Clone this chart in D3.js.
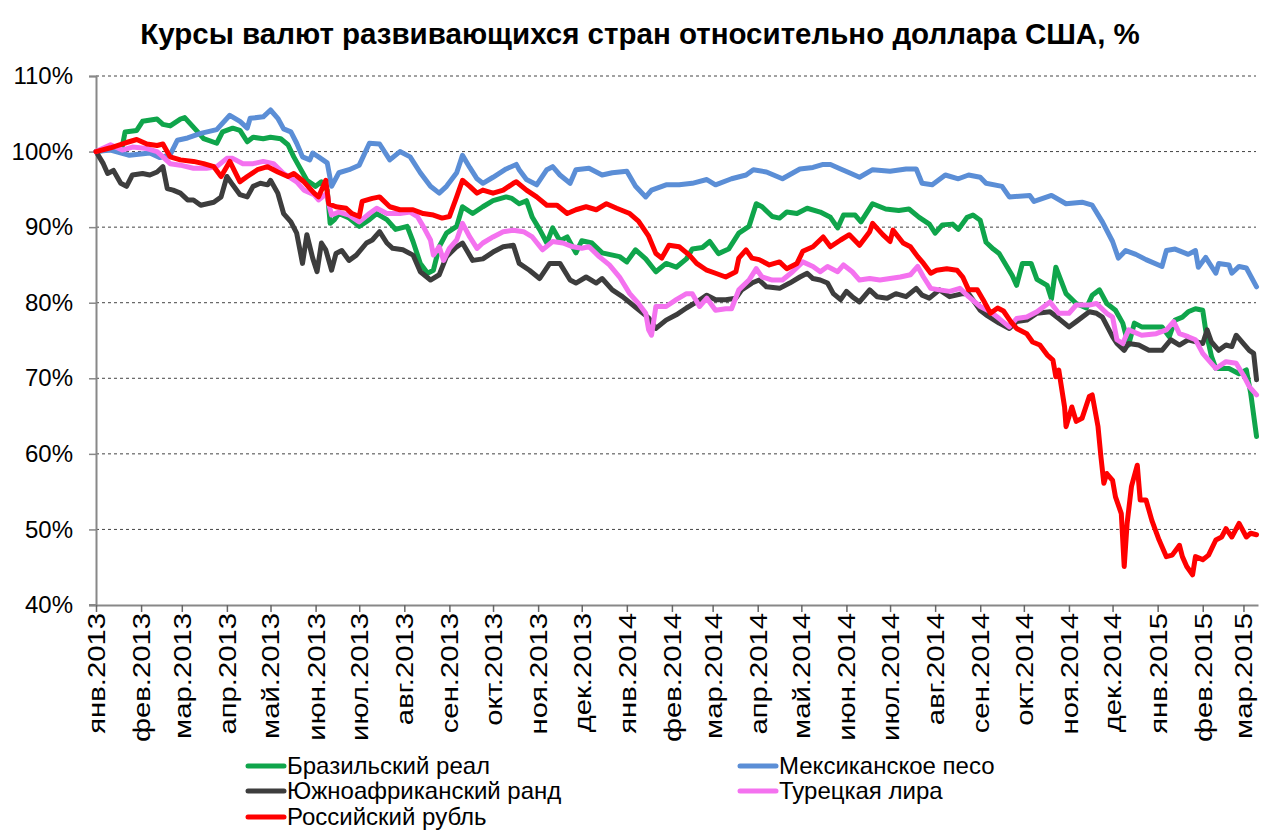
<!DOCTYPE html>
<html><head><meta charset="utf-8">
<script src="https://cdn.jsdelivr.net/npm/d3@7/dist/d3.min.js"></script>
<style>
html,body{margin:0;padding:0;background:#fff;}
svg{display:block;font-family:"Liberation Sans",Arial,sans-serif;}
</style></head><body>
<svg id="chart" width="1280" height="836"></svg>
<script>
const title = "Курсы валют развивающихся стран относительно доллара США, %";
const monthNames = ["янв","фев","мар","апр","май","июн","июл","авг","сен","окт","ноя","дек"];
const yTicks = [40,50,60,70,80,90,100,110];
const seriesNames = ["Бразильский реал","Мексиканское песо","Южноафриканский ранд","Турецкая лира","Российский рубль"];
const seriesColors = ["#0fa54b","#5b8ed6","#3d3d3d","#f472ef","#ff0000"];

const brl = [["2013-01-01",100],["2013-01-11",100.3],["2013-01-19",100.6],["2013-01-21",102.6],["2013-01-29",102.8],["2013-02-02",104.0],["2013-02-12",104.3],["2013-02-16",103.6],["2013-02-21",103.4],["2013-02-28",104.3],["2013-03-03",104.5],["2013-03-11",102.8],["2013-03-16",101.7],["2013-03-25",101.1],["2013-03-29",102.6],["2013-04-05",103.1],["2013-04-10",102.8],["2013-04-15",101.3],["2013-04-19",101.9],["2013-04-26",101.7],["2013-05-01",101.9],["2013-05-08",101.7],["2013-05-13",100.9],["2013-05-17",99.3],["2013-05-26",96.2],["2013-06-01",95.4],["2013-06-05",96.0],["2013-06-09",94.9],["2013-06-11",90.5],["2013-06-14",91.0],["2013-06-17",91.8],["2013-06-24",91.2],["2013-07-01",90.1],["2013-07-08",91.0],["2013-07-13",91.8],["2013-07-20",91.0],["2013-07-26",89.7],["2013-08-03",90.1],["2013-08-07",88.1],["2013-08-12",85.2],["2013-08-17",83.9],["2013-08-21",84.3],["2013-08-25",87.4],["2013-08-30",89.2],["2013-09-06",90.1],["2013-09-10",92.7],["2013-09-17",91.8],["2013-09-24",92.7],["2013-10-01",93.5],["2013-10-10",94.0],["2013-10-14",93.8],["2013-10-19",93.1],["2013-10-24",93.5],["2013-10-28",91.3],["2013-11-02",89.7],["2013-11-07",87.9],["2013-11-11",89.9],["2013-11-16",88.2],["2013-11-21",88.7],["2013-11-27",86.6],["2013-12-01",88.2],["2013-12-08",87.9],["2013-12-15",86.6],["2013-12-27",86.1],["2014-01-01",85.4],["2014-01-07",87.0],["2014-01-14",85.8],["2014-01-21",84.1],["2014-01-28",85.2],["2014-02-04",84.7],["2014-02-11",85.8],["2014-02-15",87.1],["2014-02-22",87.3],["2014-02-27",88.1],["2014-03-05",86.5],["2014-03-12",87.1],["2014-03-19",89.2],["2014-03-26",90.1],["2014-03-31",93.1],["2014-04-04",92.7],["2014-04-11",91.4],["2014-04-16",91.2],["2014-04-21",92.0],["2014-04-28",91.8],["2014-05-05",92.5],["2014-05-14",92.0],["2014-05-21",91.3],["2014-05-26",89.9],["2014-05-30",91.6],["2014-06-07",91.6],["2014-06-11",90.7],["2014-06-19",93.1],["2014-06-28",92.4],["2014-07-07",92.2],["2014-07-14",92.4],["2014-07-21",91.3],["2014-07-28",90.4],["2014-08-01",89.2],["2014-08-06",90.3],["2014-08-13",90.4],["2014-08-17",89.7],["2014-08-23",91.3],["2014-08-27",91.6],["2014-09-01",90.9],["2014-09-05",88.0],["2014-09-10",87.1],["2014-09-14",86.5],["2014-09-23",83.6],["2014-09-26",82.3],["2014-09-30",85.2],["2014-10-06",85.2],["2014-10-10",83.1],["2014-10-17",82.3],["2014-10-20",80.5],["2014-10-23",84.7],["2014-10-30",81.2],["2014-11-06",79.9],["2014-11-13",79.3],["2014-11-17",81.0],["2014-11-22",81.7],["2014-11-27",79.9],["2014-12-03",79.0],["2014-12-08",77.3],["2014-12-12",74.4],["2014-12-16",77.3],["2014-12-21",76.8],["2015-01-04",76.8],["2015-01-09",75.5],["2015-01-13",77.7],["2015-01-18",78.1],["2015-01-22",78.8],["2015-01-27",79.2],["2015-02-01",79.0],["2015-02-03",76.4],["2015-02-07",72.9],["2015-02-10",71.3],["2015-02-19",71.3],["2015-02-26",70.6],["2015-03-03",71.1],["2015-03-06",68.0],["2015-03-10",62.3]];

const mxn = [["2013-01-01",100],["2013-01-11",100.2],["2013-01-24",99.5],["2013-02-07",99.8],["2013-02-14",99.2],["2013-02-21",99.6],["2013-02-26",101.5],["2013-03-05",101.8],["2013-03-14",102.4],["2013-03-25",102.9],["2013-04-03",104.8],["2013-04-10",104.0],["2013-04-15",103.1],["2013-04-17",104.4],["2013-04-26",104.6],["2013-05-01",105.5],["2013-05-06",104.4],["2013-05-10",103.0],["2013-05-15",102.6],["2013-05-19",101.1],["2013-05-23",99.3],["2013-05-28",98.9],["2013-05-30",99.8],["2013-06-03",99.3],["2013-06-09",98.5],["2013-06-12",95.4],["2013-06-17",97.2],["2013-06-24",97.6],["2013-07-01",98.2],["2013-07-08",101.1],["2013-07-15",101.0],["2013-07-22",98.9],["2013-07-29",100.0],["2013-08-05",99.3],["2013-08-12",97.2],["2013-08-19",95.4],["2013-08-25",94.5],["2013-08-30",95.4],["2013-09-06",97.2],["2013-09-10",99.5],["2013-09-15",97.9],["2013-09-20",96.4],["2013-09-24",95.8],["2013-10-01",96.6],["2013-10-10",97.7],["2013-10-17",98.3],["2013-10-19",97.6],["2013-10-24",96.3],["2013-10-31",95.6],["2013-11-07",97.6],["2013-11-11",98.0],["2013-11-16",96.9],["2013-11-23",95.8],["2013-11-27",97.6],["2013-12-06",97.8],["2013-12-15",96.9],["2013-12-22",97.2],["2014-01-01",97.4],["2014-01-07",95.4],["2014-01-14",94.0],["2014-01-18",94.9],["2014-01-28",95.6],["2014-02-06",95.6],["2014-02-15",95.8],["2014-02-25",96.3],["2014-03-03",95.6],["2014-03-14",96.4],["2014-03-24",96.9],["2014-03-29",97.6],["2014-04-07",97.3],["2014-04-18",96.4],["2014-04-30",97.7],["2014-05-09",97.9],["2014-05-16",98.3],["2014-05-21",98.3],["2014-05-28",97.7],["2014-06-03",97.2],["2014-06-10",96.6],["2014-06-19",97.6],["2014-07-01",97.4],["2014-07-12",97.7],["2014-07-19",97.7],["2014-07-23",95.8],["2014-07-30",95.6],["2014-08-08",96.9],["2014-08-17",96.4],["2014-08-24",96.9],["2014-09-01",96.6],["2014-09-05",95.8],["2014-09-16",95.4],["2014-09-21",94.0],["2014-10-05",94.2],["2014-10-08",93.4],["2014-10-20",94.2],["2014-10-30",93.1],["2014-11-10",93.3],["2014-11-17",92.9],["2014-11-24",90.7],["2014-12-01",88.1],["2014-12-05",85.9],["2014-12-10",86.9],["2014-12-17",86.4],["2014-12-24",85.7],["2015-01-04",84.8],["2015-01-07",86.9],["2015-01-13",87.1],["2015-01-22",86.4],["2015-01-27",86.9],["2015-01-29",84.7],["2015-02-03",86.0],["2015-02-10",83.9],["2015-02-12",85.2],["2015-02-19",85.0],["2015-02-21",83.9],["2015-02-26",84.8],["2015-03-03",84.6],["2015-03-10",82.1]];

const zar = [["2013-01-01",100],["2013-01-06",98.4],["2013-01-09",97.1],["2013-01-13",97.5],["2013-01-18",95.8],["2013-01-22",95.4],["2013-01-26",96.9],["2013-02-02",97.1],["2013-02-07",96.9],["2013-02-12",97.3],["2013-02-16",98.0],["2013-02-19",95.1],["2013-02-23",94.9],["2013-02-28",94.5],["2013-03-05",93.6],["2013-03-09",93.6],["2013-03-14",92.9],["2013-03-23",93.3],["2013-03-28",94.0],["2013-04-01",96.7],["2013-04-05",95.6],["2013-04-10",94.3],["2013-04-15",94.0],["2013-04-19",95.4],["2013-04-24",95.8],["2013-04-29",95.6],["2013-05-01",96.2],["2013-05-06",94.5],["2013-05-10",91.8],["2013-05-15",90.7],["2013-05-19",89.2],["2013-05-23",85.2],["2013-05-26",89.0],["2013-05-30",85.9],["2013-06-02",84.1],["2013-06-05",87.9],["2013-06-08",87.0],["2013-06-12",84.3],["2013-06-15",86.5],["2013-06-19",86.9],["2013-06-24",85.6],["2013-06-29",86.3],["2013-07-06",87.9],["2013-07-10",88.3],["2013-07-15",89.4],["2013-07-20",87.9],["2013-07-24",87.2],["2013-07-31",87.0],["2013-08-07",86.3],["2013-08-12",84.1],["2013-08-19",83.0],["2013-08-25",83.7],["2013-08-30",86.1],["2013-09-06",87.4],["2013-09-10",87.9],["2013-09-17",85.6],["2013-09-24",85.8],["2013-10-01",86.7],["2013-10-08",87.4],["2013-10-15",87.6],["2013-10-19",85.2],["2013-10-26",84.3],["2013-11-02",83.2],["2013-11-09",85.2],["2013-11-16",85.2],["2013-11-23",83.0],["2013-11-27",82.6],["2013-12-04",83.4],["2013-12-11",82.6],["2013-12-15",83.2],["2013-12-22",81.7],["2013-12-29",80.8],["2014-01-07",79.4],["2014-01-16",78.0],["2014-01-21",76.6],["2014-01-28",77.7],["2014-02-04",78.4],["2014-02-11",79.3],["2014-02-18",80.1],["2014-02-25",81.0],["2014-03-03",80.4],["2014-03-10",80.4],["2014-03-17",80.6],["2014-03-21",81.7],["2014-03-28",82.6],["2014-04-02",83.0],["2014-04-07",82.1],["2014-04-16",81.9],["2014-04-23",82.6],["2014-04-30",83.4],["2014-05-05",83.9],["2014-05-09",83.2],["2014-05-14",83.0],["2014-05-19",82.6],["2014-05-23",81.2],["2014-05-28",80.4],["2014-06-01",81.5],["2014-06-05",80.8],["2014-06-10",80.1],["2014-06-17",81.7],["2014-06-22",80.8],["2014-06-29",80.6],["2014-07-05",81.2],["2014-07-12",80.8],["2014-07-19",81.9],["2014-07-23",81.0],["2014-07-28",80.6],["2014-08-04",81.7],["2014-08-11",80.8],["2014-08-20",81.2],["2014-08-24",81.2],["2014-09-01",79.0],["2014-09-05",78.4],["2014-09-14",77.3],["2014-09-21",76.6],["2014-09-26",77.5],["2014-10-03",77.7],["2014-10-10",78.6],["2014-10-19",78.8],["2014-10-25",77.9],["2014-11-01",76.8],["2014-11-06",77.5],["2014-11-15",78.8],["2014-11-20",78.6],["2014-11-24",78.1],["2014-12-01",75.5],["2014-12-04",74.6],["2014-12-09",73.7],["2014-12-12",74.6],["2014-12-19",74.4],["2014-12-26",73.7],["2015-01-04",73.7],["2015-01-10",75.1],["2015-01-16",74.4],["2015-01-22",75.1],["2015-02-01",74.6],["2015-02-04",76.4],["2015-02-07",74.8],["2015-02-12",73.7],["2015-02-17",74.4],["2015-02-21",74.2],["2015-02-24",75.7],["2015-03-01",74.6],["2015-03-05",73.7],["2015-03-08",73.3],["2015-03-10",69.8]];

const tryl = [["2013-01-01",100],["2013-01-11",100.9],["2013-01-19",100.2],["2013-01-26",100.6],["2013-02-05",100.4],["2013-02-12",100.0],["2013-02-16",99.3],["2013-02-21",98.4],["2013-02-28",98.2],["2013-03-09",97.8],["2013-03-18",97.8],["2013-03-25",98.0],["2013-04-01",99.1],["2013-04-05",99.1],["2013-04-12",98.4],["2013-04-19",98.4],["2013-04-26",98.7],["2013-05-03",98.4],["2013-05-10",97.1],["2013-05-15",96.5],["2013-05-19",96.0],["2013-05-24",94.9],["2013-05-31",94.3],["2013-06-03",93.6],["2013-06-09",94.5],["2013-06-10",93.1],["2013-06-12",91.6],["2013-06-17",92.0],["2013-06-24",91.6],["2013-07-01",90.7],["2013-07-08",91.8],["2013-07-13",92.5],["2013-07-20",91.8],["2013-07-29",91.8],["2013-08-05",92.0],["2013-08-10",91.4],["2013-08-14",90.1],["2013-08-19",88.3],["2013-08-21",86.3],["2013-08-25",87.4],["2013-08-28",85.6],["2013-09-01",87.2],["2013-09-06",88.3],["2013-09-10",90.5],["2013-09-15",88.7],["2013-09-20",87.2],["2013-09-24",87.9],["2013-10-01",88.7],["2013-10-08",89.4],["2013-10-15",89.6],["2013-10-22",89.4],["2013-10-28",88.7],["2013-11-04",87.0],["2013-11-11",88.1],["2013-11-18",87.9],["2013-11-25",87.4],["2013-12-01",87.2],["2013-12-06",87.4],["2013-12-13",86.1],["2013-12-20",85.0],["2013-12-27",83.4],["2014-01-03",81.2],["2014-01-09",79.9],["2014-01-14",78.6],["2014-01-16",76.4],["2014-01-18",75.7],["2014-01-21",79.5],["2014-01-28",79.5],["2014-02-04",80.4],["2014-02-11",81.2],["2014-02-15",81.2],["2014-02-20",79.5],["2014-02-25",80.6],["2014-03-03",79.0],["2014-03-10",79.2],["2014-03-14",79.2],["2014-03-19",81.7],["2014-03-26",83.0],["2014-03-31",84.5],["2014-04-04",83.4],["2014-04-11",83.0],["2014-04-18",83.0],["2014-04-25",84.1],["2014-05-02",85.4],["2014-05-09",84.8],["2014-05-14",84.1],["2014-05-19",84.8],["2014-05-26",84.1],["2014-05-30",85.0],["2014-06-05",84.1],["2014-06-10",83.0],["2014-06-17",83.2],["2014-06-24",83.0],["2014-07-01",83.2],["2014-07-08",83.4],["2014-07-15",83.7],["2014-07-20",84.8],["2014-07-24",83.4],["2014-07-29",81.9],["2014-08-04",81.7],["2014-08-11",81.5],["2014-08-18",81.9],["2014-08-24",80.8],["2014-09-01",79.5],["2014-09-08",78.8],["2014-09-14",77.9],["2014-09-21",76.8],["2014-09-26",77.9],["2014-10-03",78.1],["2014-10-10",78.8],["2014-10-19",80.1],["2014-10-25",78.6],["2014-11-01",78.6],["2014-11-06",79.7],["2014-11-15",79.7],["2014-11-20",79.9],["2014-11-27",78.6],["2014-12-01",78.1],["2014-12-04",75.1],["2014-12-08",74.6],["2014-12-12",76.4],["2014-12-21",75.7],["2014-12-31",75.9],["2015-01-07",76.4],["2015-01-12",77.5],["2015-01-16",75.9],["2015-01-22",75.5],["2015-01-27",75.1],["2015-02-01",73.3],["2015-02-05",72.4],["2015-02-10",71.3],["2015-02-17",72.2],["2015-02-24",72.0],["2015-03-01",70.4],["2015-03-05",68.9],["2015-03-10",67.8]];

const rub = [["2013-01-01",100],["2013-01-11",100.5],["2013-01-22",101.2],["2013-01-29",101.6],["2013-02-05",101.0],["2013-02-12",100.8],["2013-02-16",101.0],["2013-02-21",99.3],["2013-02-28",98.9],["2013-03-09",98.7],["2013-03-16",98.4],["2013-03-23",98.0],["2013-03-28",96.7],["2013-04-03",98.7],["2013-04-10",96.0],["2013-04-15",96.7],["2013-04-22",97.6],["2013-04-29",98.0],["2013-05-06",97.3],["2013-05-13",96.7],["2013-05-17",97.1],["2013-05-24",96.0],["2013-05-31",94.5],["2013-06-03",94.0],["2013-06-08",96.2],["2013-06-10",93.1],["2013-06-15",92.7],["2013-06-22",92.5],["2013-06-26",91.8],["2013-07-01",91.4],["2013-07-03",93.4],["2013-07-10",93.8],["2013-07-15",94.0],["2013-07-22",92.7],["2013-07-29",92.3],["2013-08-07",92.3],["2013-08-14",91.8],["2013-08-21",91.6],["2013-08-27",91.2],["2013-09-01",91.4],["2013-09-06",94.0],["2013-09-10",96.2],["2013-09-15",95.4],["2013-09-20",94.5],["2013-09-24",94.9],["2013-10-01",94.5],["2013-10-08",94.9],["2013-10-15",95.8],["2013-10-17",96.0],["2013-10-24",94.9],["2013-10-31",94.0],["2013-11-07",92.9],["2013-11-14",92.9],["2013-11-21",91.8],["2013-11-27",92.3],["2013-12-04",92.7],["2013-12-11",92.3],["2013-12-18",93.1],["2013-12-25",92.5],["2014-01-03",91.8],["2014-01-09",90.8],["2014-01-16",88.8],["2014-01-21",86.5],["2014-01-25",85.9],["2014-01-30",87.6],["2014-02-06",87.4],["2014-02-13",86.3],["2014-02-18",85.2],["2014-02-25",84.3],["2014-03-03",83.9],["2014-03-10",83.4],["2014-03-17",84.1],["2014-03-19",85.9],["2014-03-24",87.0],["2014-03-28",85.9],["2014-04-02",85.7],["2014-04-09",85.0],["2014-04-16",85.4],["2014-04-21",84.5],["2014-04-28",85.2],["2014-05-02",86.8],["2014-05-09",87.4],["2014-05-16",88.7],["2014-05-21",87.4],["2014-05-28",88.3],["2014-06-03",89.0],["2014-06-10",87.6],["2014-06-17",89.4],["2014-06-19",90.5],["2014-06-26",89.0],["2014-07-01",88.1],["2014-07-03",89.6],["2014-07-10",87.9],["2014-07-15",87.4],["2014-07-20",86.1],["2014-07-24",85.2],["2014-07-29",83.9],["2014-08-02",84.3],["2014-08-09",84.5],["2014-08-16",84.3],["2014-08-20",83.4],["2014-08-24",81.7],["2014-08-30",81.7],["2014-09-03",80.4],["2014-09-08",78.6],["2014-09-13",79.3],["2014-09-17",78.9],["2014-09-22",77.5],["2014-09-26",76.6],["2014-10-03",75.9],["2014-10-07",74.8],["2014-10-12",74.4],["2014-10-17",73.1],["2014-10-21",72.4],["2014-10-23",70.2],["2014-10-25",71.1],["2014-10-29",66.2],["2014-10-30",63.6],["2014-11-03",66.2],["2014-11-06",64.3],["2014-11-10",64.7],["2014-11-15",67.6],["2014-11-17",67.8],["2014-11-21",63.6],["2014-11-23",59.6],["2014-11-25",56.1],["2014-11-27",57.4],["2014-12-01",56.5],["2014-12-03",54.3],["2014-12-07",52.1],["2014-12-09",45.1],["2014-12-11",50.8],["2014-12-14",55.7],["2014-12-18",58.5],["2014-12-20",53.9],["2014-12-24",53.9],["2014-12-28",51.2],["2015-01-02",48.6],["2015-01-07",46.4],["2015-01-11",46.6],["2015-01-16",47.9],["2015-01-18",46.4],["2015-01-21",45.1],["2015-01-25",44.0],["2015-01-27",46.4],["2015-02-01",46.0],["2015-02-05",46.6],["2015-02-10",48.6],["2015-02-14",49.0],["2015-02-17",50.1],["2015-02-21",49.0],["2015-02-26",50.8],["2015-03-03",49.0],["2015-03-06",49.5],["2015-03-10",49.3]];

const allSeries = [brl, mxn, zar, tryl, rub];

(function(){
const svg = d3.select("#chart");
const parse = d3.timeParse("%Y-%m-%d");
const pl = 96, pr = 1258, pt = 76, pb = 605;
const x = d3.scaleTime().domain([parse("2013-01-01"), parse("2015-03-11")]).range([pl, pr]);
const y = d3.scaleLinear().domain([40,110]).range([pb, pt]);

svg.append("text").attr("x", 640).attr("y", 44).attr("text-anchor","middle")
  .attr("font-size", 29.5).attr("font-weight","bold").attr("fill","#000").text(title);

svg.append("g").selectAll("line").data(yTicks.filter(v=>v>40)).join("line")
  .attr("x1", pl).attr("x2", 1256).attr("y1", d=>y(d)).attr("y2", d=>y(d))
  .attr("stroke","#444").attr("stroke-width",1).attr("stroke-dasharray","3,3");

const yAxis = d3.axisLeft(y).tickValues(yTicks).tickSize(7).tickPadding(16).tickFormat(d=>d+"%");
const gy = svg.append("g").attr("transform",`translate(${pl},0)`).call(yAxis);
gy.select(".domain").attr("stroke","#888").attr("stroke-width",2);
gy.selectAll(".tick line").attr("stroke","#888").attr("stroke-width",1.5);
gy.selectAll(".tick text").attr("font-size",24).attr("fill","#000").attr("font-family","Liberation Sans, Arial, sans-serif");

const months = d3.timeMonth.range(parse("2013-01-01"), parse("2015-03-02"));
const xAxis = d3.axisBottom(x).tickValues(months).tickSize(7).tickSizeOuter(0)
  .tickFormat(d=>monthNames[d.getMonth()]+"."+d.getFullYear());
const gx = svg.append("g").attr("transform",`translate(0,${pb})`).call(xAxis);
gx.select(".domain").attr("stroke","#888").attr("stroke-width",2);
gx.selectAll(".tick line").attr("stroke","#666").attr("stroke-width",1.5);
gx.selectAll(".tick text").attr("font-size",24).attr("fill","#000")
  .attr("font-family","Liberation Sans, Arial, sans-serif")
  .attr("transform","rotate(-90) scale(1.22,1)").attr("text-anchor","end")
  .attr("x",-6.5).attr("y",0).attr("dy","0.35em");
svg.append("line").attr("x1",89).attr("x2",pl).attr("y1",pb).attr("y2",pb).attr("stroke","#888").attr("stroke-width",2);

const line = d3.line().x(d=>x(parse(d[0]))).y(d=>y(d[1]));
svg.append("g").selectAll("path").data(allSeries).join("path")
  .attr("d", line).attr("fill","none")
  .attr("stroke",(d,i)=>seriesColors[i]).attr("stroke-width",5)
  .attr("stroke-linejoin","round").attr("stroke-linecap","round");

const legPos = [[248,766],[740,766],[248,791],[740,791],[248,817]];
const lg = svg.append("g").selectAll("g").data(seriesNames).join("g")
  .attr("transform",(d,i)=>`translate(${legPos[i][0]},${legPos[i][1]})`);
lg.append("line").attr("x1",0).attr("x2",36).attr("y1",0).attr("y2",0)
  .attr("stroke",(d,i)=>seriesColors[i]).attr("stroke-width",5).attr("stroke-linecap","round");
lg.append("text").attr("x",39).attr("y",0).attr("dy","0.35em").attr("font-size",24).attr("fill","#000").text(d=>d);
})();
</script>
</body></html>
